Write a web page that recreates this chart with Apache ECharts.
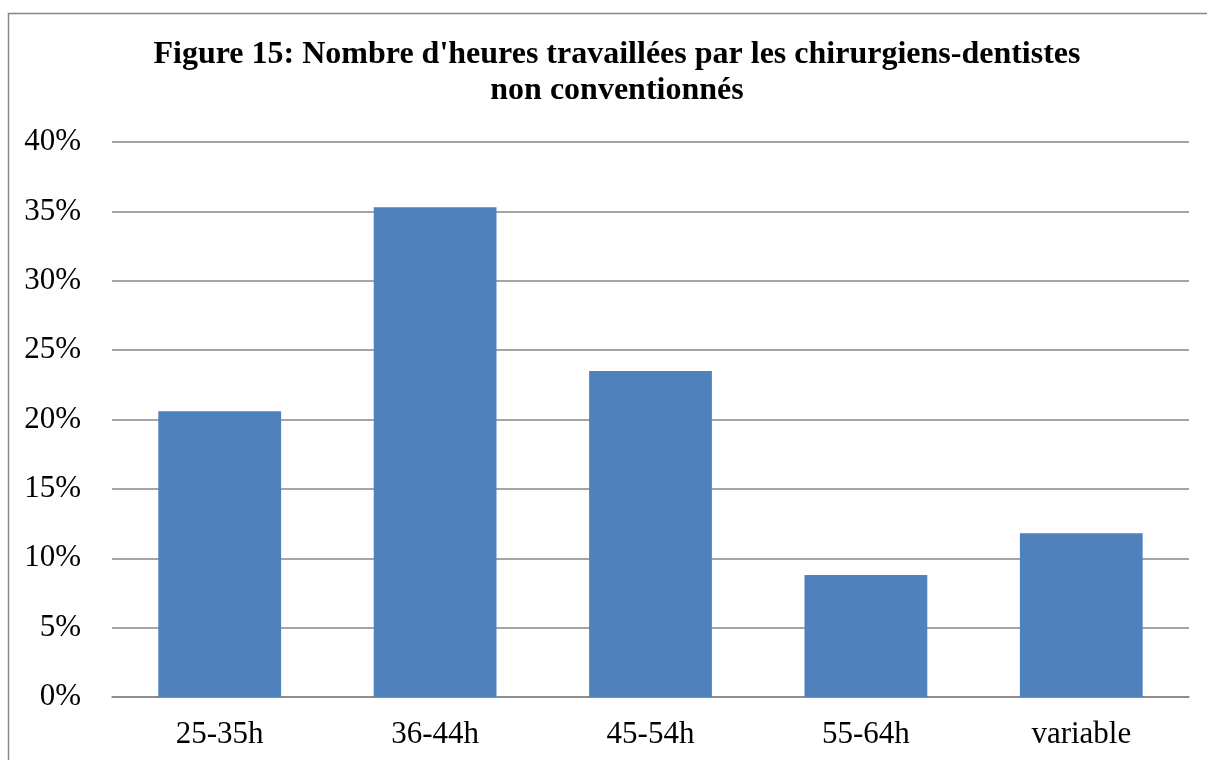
<!DOCTYPE html>
<html>
<head>
<meta charset="utf-8">
<script src="https://cdn.jsdelivr.net/npm/echarts@6/dist/echarts.min.js"></script>
<style>
  html, body { margin: 0; padding: 0; background: #fff; }
  #chart { width: 1207px; height: 760px; }
</style>
</head>
<body>
<div id="chart"></div>
<script>
const titleText = 'Figure 15: Nombre d\'heures travaillées par les chirurgiens-dentistes\nnon conventionnés'
const categories = ['25-35h', '36-44h', '45-54h', '55-64h', 'variable']
const shares = [20.6, 35.3, 23.5, 8.8, 11.8]

const font = '"Liberation Serif", "Times New Roman", serif'

const chart = echarts.init(document.getElementById('chart'))
chart.setOption({
  animation: false,
  // cadre du graphique
  graphic: [
    {
      type: 'rect',
      shape: { x: 8.5, y: 13.5, width: 1220, height: 760 },
      style: { fill: 'none', stroke: '#868686', lineWidth: 1.5 }
    }
  ],
  title: {
    text: titleText,
    left: 612,
    textAlign: 'center',
    top: 32,
    textStyle: {
      fontFamily: font,
      fontSize: 32,
      fontWeight: 'bold',
      color: '#000',
      lineHeight: 36
    }
  },
  grid: {
    left: 112,
    right: 18,
    top: 142,
    bottom: 63
  },
  xAxis: {
    type: 'category',
    data: categories,
    axisLine: { lineStyle: { color: '#868686', width: 1.5 } },
    axisTick: { show: false },
    axisLabel: {
      fontFamily: font,
      fontSize: 31,
      color: '#000',
      margin: 22
    }
  },
  yAxis: {
    type: 'value',
    min: 0,
    max: 40,
    interval: 5,
    axisLine: { show: false },
    axisTick: { show: false },
    axisLabel: {
      formatter: '{value}%',
      fontFamily: font,
      fontSize: 31,
      color: '#000',
      margin: 31
    },
    splitLine: { lineStyle: { color: '#868686', width: 1.5 } }
  },
  series: [
    {
      type: 'bar',
      data: shares,
      barCategoryGap: '43%',
      itemStyle: { color: '#4f81bd' }
    }
  ]
})
</script>
</body>
</html>
